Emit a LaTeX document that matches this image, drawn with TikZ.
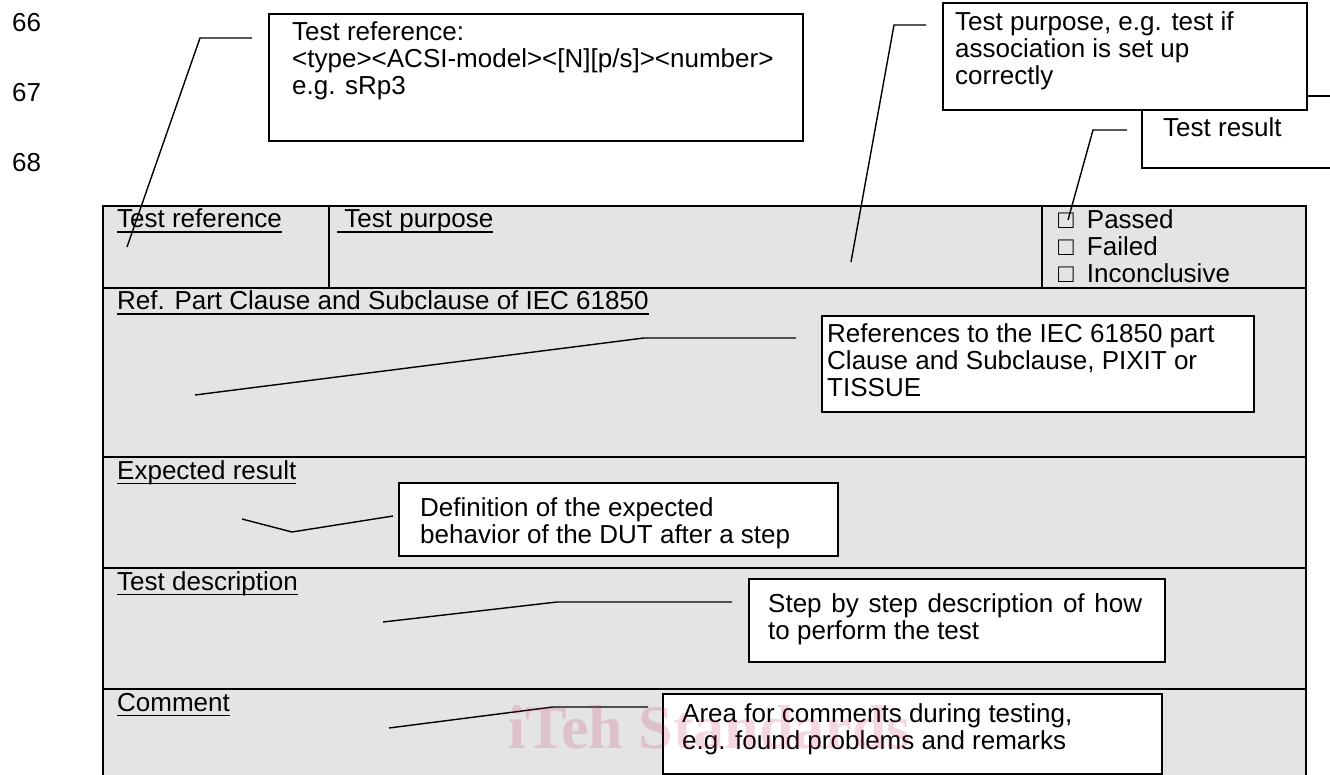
\documentclass[tikz,border=0pt]{standalone}
\usepackage{fontspec}
\setmainfont{Liberation Sans}
\newfontfamily\markfont{Liberation Serif}
\usetikzlibrary{arrows,shapes}
\definecolor{rowgray}{RGB}{228,228,228}
\definecolor{markred}{RGB}{200,40,80}
\newcommand{\ultext}[1]{\setbox0\hbox{#1}\rlap{\rule[-5pt]{\wd0}{1.5pt}}\box0}

\begin{document}
\begin{tikzpicture}[x=1pt,y=-1pt,
  txt/.style={anchor=base west,inner sep=0pt,font=\fontsize{26}{27}\selectfont},
  para/.style={anchor=north west,inner sep=0pt,align=left,font=\fontsize{26}{27}\selectfont},
  box/.style={draw,fill=white,line width=1.6pt,anchor=north west,inner sep=0pt},
  lead/.style={line width=1.4pt},
  grid/.style={line width=2pt}]
\useasboundingbox (0,0) rectangle (1330,775);
\clip (0,0) rectangle (1330,775);
  \node[txt] (l66) at (12,32) {66};
  \node[txt] (l67) at (12,102) {67};
  \node[txt] (l68) at (12,172) {68};
  % the form
  \node[box,fill=rowgray,line width=2pt,minimum width=1203,minimum height=580] (sheet) at (102,205) {};
  \foreach \y in {288,457,568,689}
    \draw[grid] (102,\y) -- (1305,\y);
  \draw[grid] (329,205) -- (329,288);
  \draw[grid] (1042,205) -- (1042,288);
  \node[txt] (refhead) at (117,228) {\ultext{Test reference}};
  \node[txt] (purphead) at (337,228) {\ultext{\ Test purpose}};
  \node[para] (verdict) at (1058,209.5) {□\hspace{13pt}Passed\\□\hspace{13pt}Failed\\□\hspace{13pt}Inconclusive};
  \node[txt] (clausehead) at (117,310) {\ultext{Ref. Part Clause and Subclause of IEC 61850}};
  \node[txt] (expecthead) at (117,479) {\ultext{Expected result}};
  \node[txt] (deschead) at (117,590) {\ultext{Test description}};
  \node[txt] (commhead) at (117,711) {\ultext{Comment}};
  % leaders
  \coordinate (a1) at (252,38);   \coordinate (a2) at (200,38);  \coordinate (a3) at (127,247);
  \coordinate (b1) at (926,25);   \coordinate (b2) at (894,25);  \coordinate (b3) at (851,262);
  \coordinate (c1) at (1127,130); \coordinate (c2) at (1093,130); \coordinate (c3) at (1068,220);
  \coordinate (d1) at (796,338);  \coordinate (d2) at (644,338); \coordinate (d3) at (195,395);
  \coordinate (e1) at (393,516);  \coordinate (e2) at (292,532); \coordinate (e3) at (242,519);
  \coordinate (f1) at (732,602);  \coordinate (f2) at (557,602); \coordinate (f3) at (383,622);
  \coordinate (g1) at (648,707);  \coordinate (g2) at (553,707); \coordinate (g3) at (389,728);
  \coordinate (h1) at (1306,107); \coordinate (h2) at (1340,103);
  \draw[lead] (a1) -- (a2) -- (a3);
  \draw[lead] (b1) -- (b2) -- (b3);
  \draw[lead] (c1) -- (c2) -- (c3);
  \draw[lead] (d1) -- (d2) -- (d3);
  \draw[lead] (e1) -- (e2) -- (e3);
  \draw[lead] (f1) -- (f2) -- (f3);
  \draw[lead] (g1) -- (g2) -- (g3);
  \draw[lead] (h1) -- (h2);
  % notes
  \node[box,minimum width=534,minimum height=127] (refbox) at (268,13) {};
  \node[para] (reftext) at (292,21.5) {Test reference:\\<type><ACSI-model><[N][p/s]><number>\\e.g. sRp3};
  \node[box,minimum width=204,minimum height=72] (resultbox) at (1141,95) {};
  \node[txt] (resulttext) at (1163,137) {Test result};
  \node[box,minimum width=364,minimum height=107] (purpbox) at (942,2) {};
  \node[para] (purptext) at (955,11.5) {Test purpose, e.g. test if\\association is set up\\correctly};
  \node[box,minimum width=432,minimum height=96] (clausebox) at (821,315) {};
  \node[para] (clausetext) at (827,323.5) {References to the IEC 61850 part\\Clause and Subclause, PIXIT or\\TISSUE};
  \node[box,minimum width=439,minimum height=73] (expectbox) at (398,482) {};
  \node[para] (expecttext) at (420,497.5) {Definition of the expected\\behavior of the DUT after a step};
  \node[box,minimum width=416,minimum height=83] (descbox) at (748,578) {};
  \node[para] (desctext) at (768,593.5) {\makebox[374pt][s]{Step by step description of how}\\to perform the test};
  \node[box,minimum width=499,minimum height=80] (commbox) at (662,693) {};
  \node[para] (commtext) at (682,703.5) {Area for comments during testing,\\e.g. found problems and remarks};
  \node[anchor=base west,inner sep=0pt,font=\markfont\fontsize{62}{62}\selectfont\bfseries,text=markred,text opacity=0.18] (stamp) at (508,748) {iTeh Standards};
\end{tikzpicture}
\end{document}
